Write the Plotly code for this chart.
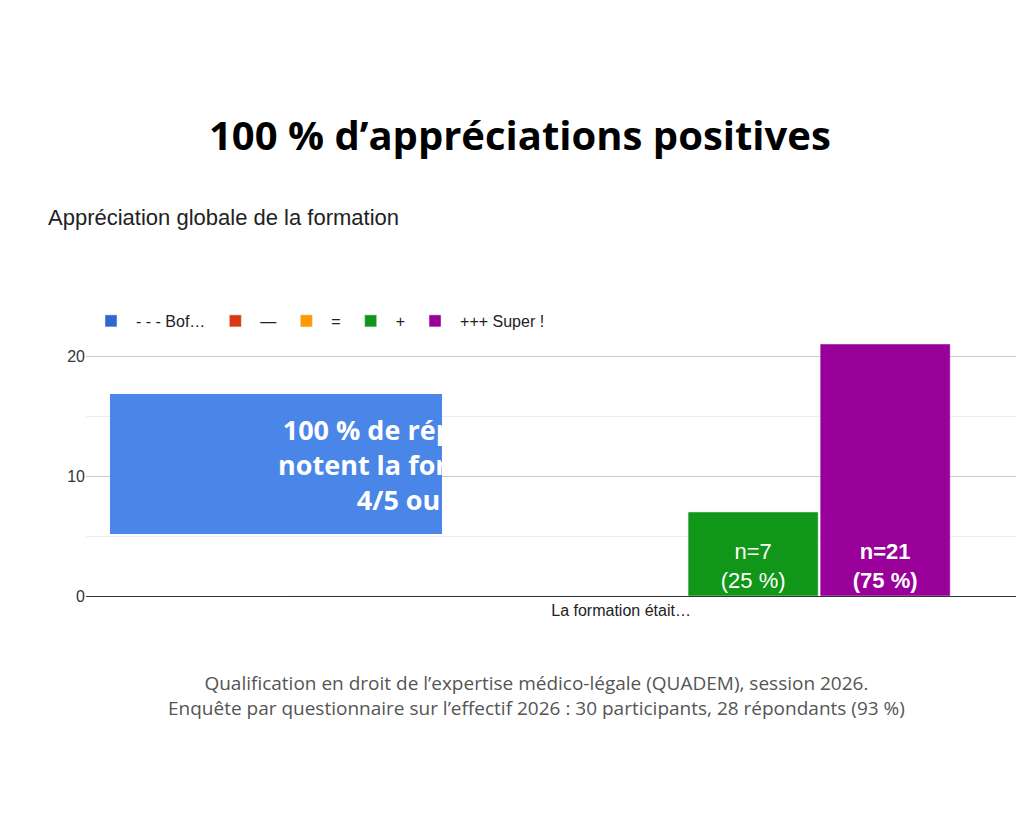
import plotly.graph_objects as go

category = ["La formation était…"]
series_names = ["- - - Bof…", "—", "=", "+", "+++ Super !"]
series_values = [0, 0, 0, 7, 21]
series_colors = ["#3366cc", "#dc3912", "#ff9900", "#109618", "#990099"]
bar_labels = ["", "", "", "n=7<br>(25 %)", "<b>n=21<br>(75 %)</b>"]

fig = go.Figure()
for name, val, col, lab in zip(series_names, series_values, series_colors, bar_labels):
    fig.add_trace(go.Bar(
        x=category, y=[val], name=name, marker_color=col,
        text=[lab], textposition="inside", insidetextanchor="start",
        textfont=dict(color="white", size=22, family="Liberation Sans, Arial"),
        cliponaxis=False,
    ))

fig.update_layout(
    width=1024, height=819,
    paper_bgcolor="white", plot_bgcolor="white",
    barmode="group", bargap=0.383, bargroupgap=0.015,
    margin=dict(l=78, r=0, t=330, b=231),
    font=dict(family="Liberation Sans, Arial", color="#222"),
    showlegend=True,
    legend=dict(orientation="h", x=0, xanchor="left", y=1.0, yanchor="bottom",
                font=dict(size=16, color="#222"), itemwidth=40, traceorder="normal"),
    xaxis=dict(range=[-0.5, 0.384], showgrid=False, showline=True, linecolor="#333",
               linewidth=1, tickfont=dict(size=16, color="#222"), ticks=""),
    yaxis=dict(range=[0, 21.5], tickvals=[0, 10, 20], showgrid=True, gridcolor="#ccc",
               zeroline=False, tickfont=dict(size=16, color="#333"),
               minor=dict(tickvals=[5, 15], showgrid=True, gridcolor="#eee")),
    shapes=[dict(type="rect", xref="paper", yref="paper",
                 x0=(102 - 78) / 946, x1=(434 - 78) / 946,
                 y0=(588 - 526) / 258, y1=(588 - 386) / 258,
                 fillcolor="#4a86e8", line_width=0, layer="above")],
)

fig.add_annotation(xref="paper", yref="paper", x=(268 - 78) / 946, y=(588 - 456) / 258,
                   text="<b>100 % de répondants<br>notent la formation à<br>4/5 ou 5/5</b>",
                   showarrow=False, font=dict(size=27, color="white", family="Open Sans, Arial"),
                   align="center")
fig.add_annotation(xref="paper", yref="paper", x=512 / 1024 - 78 / 946, y=0,
                   text="", showarrow=False)
# Titles and footer in pixel-ish paper coordinates
fig.add_annotation(xref="paper", yref="paper", x=(512 - 78) / 946, y=(588 - 97) / 258,
                   text="<b>100 % d’appréciations positives</b>", showarrow=False,
                   font=dict(size=40, color="black", family="Open Sans, Arial"))
fig.add_annotation(xref="paper", yref="paper", x=(38 - 78) / 946, xanchor="left",
                   y=(588 - 195) / 258, text="Appréciation globale de la formation",
                   showarrow=False, font=dict(size=22, color="#222"))
fig.add_annotation(xref="paper", yref="paper", x=(528 - 78) / 946, y=(588 - 715) / 258,
                   text="Qualification en droit de l’expertise médico-légale (QUADEM), session 2026.<br>"
                        "Enquête par questionnaire sur l’effectif 2026 : 30 participants, 28 répondants (93 %)",
                   showarrow=False, font=dict(size=19, color="#555", family="Open Sans, Arial"))

fig.write_html("out.html")
